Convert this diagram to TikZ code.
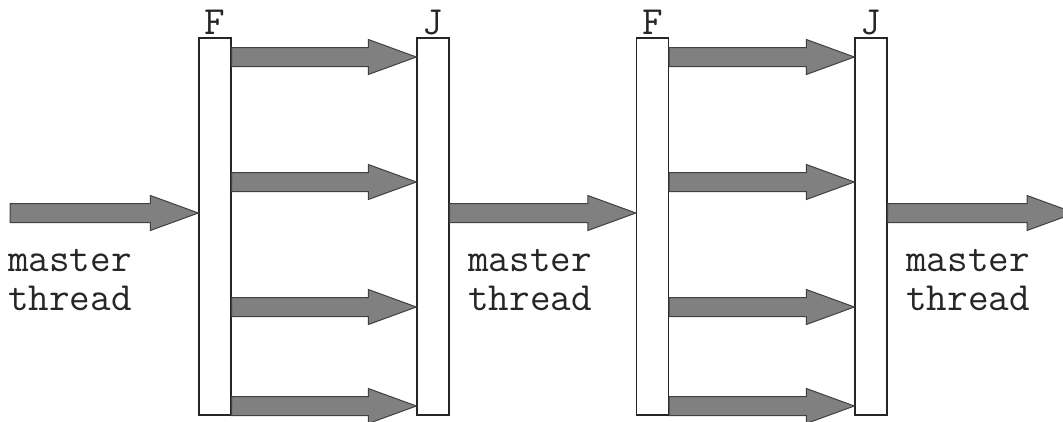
\documentclass[tikz,border=0pt]{standalone}
\usetikzlibrary{calc}
\tikzset{
  bar/.style={draw=black!85, fill=white, line width=1.3pt, minimum width=32pt, minimum height=377pt},
  fat/.style={draw=black!75, fill=black!50, line width=1pt,
    to path={let \p1=(\tikztostart), \p2=(\tikztotarget) in
      (\x1,\y1-9.5) -- (\x2-48,\y1-9.5) -- (\x2-48,\y1-17.5) -- (\x2,\y1)
      -- (\x2-48,\y1+17.5) -- (\x2-48,\y1+9.5) -- (\x1,\y1+9.5) -- cycle}},
  tag/.style={text=black!85, font=\ttfamily\fontsize{40}{39}\selectfont},
}
\begin{document}
\begin{tikzpicture}[x=1pt,y=-1pt]
\tikzstyle{every node}+=[inner sep=0pt]
\useasboundingbox (0,0) rectangle (1063,421);
\clip (0,0) rectangle (1063,421);
% fork and join bars
\node [bar] (F1) at (215,226.5) {};
\node [bar] (J1) at (433,226.5) {};
\node [bar] (F2) at (652.5,226.5) {};
\node [bar] (J2) at (871,226.5) {};
\node [tag, anchor=base] (F1t) at ($(F1.north)+(0,-3)$) {F};
\node [tag, anchor=base] (J1t) at ($(J1.north)+(0,-3)$) {J};
\node [tag, anchor=base] (F2t) at ($(F2.north)+(0,-3)$) {F};
\node [tag, anchor=base] (J2t) at ($(J2.north)+(0,-3)$) {J};
% team threads
\foreach \h in {57,182,307,406} {
  \coordinate (a) at (0,\h);
  \draw [fat] (F1.east |- a) to (J1.west |- a);
  \draw [fat] (F2.east |- a) to (J2.west |- a);
}
% master thread
\coordinate (start) at (10,213);
\coordinate (stop) at (1075,213);
\draw [fat] (start) to (F1.west |- start);
\draw [fat] (J1.east |- start) to (F2.west |- start);
\draw [fat] (J2.east |- start) to (stop);
\node [tag, anchor=base west, align=left] (m1) at (8,310) {master\\thread};
\node [tag, anchor=base west, align=left] (m2) at (468,310) {master\\thread};
\node [tag, anchor=base west, align=left] (m3) at (906,310) {master\\thread};
\end{tikzpicture}
\end{document}
